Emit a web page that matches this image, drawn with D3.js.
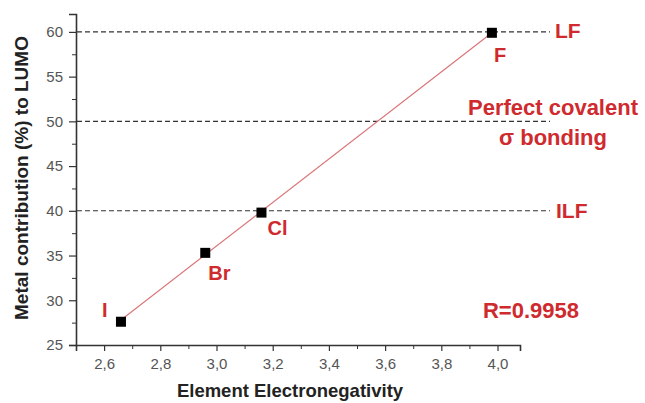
<!DOCTYPE html>
<html>
<head>
<meta charset="utf-8">
<script src="https://cdnjs.cloudflare.com/ajax/libs/d3/7.8.5/d3.min.js"></script>
<style>
  html, body { margin: 0; padding: 0; background: #fff; }
  svg { display: block; font-family: "Liberation Sans", Arial, sans-serif; }
</style>
</head>
<body>
<script>
'use strict';
(function () {

  // data
  let elements = ["I", "Br", "Cl", "F"];
  let electroneg = [2.66, 2.96, 3.16, 3.98];
  let metalContrib = [27.6, 35.3, 39.8, 59.9];
  // label offsets (px) for each point name
  let labelDx = [-19, 3, 6, 2];
  let labelDy = [-5, 27, 22, 29];

  // linear fit line end points
  let fitX = [2.66, 3.98];
  let fitY = [27.8, 59.9];

  // reference levels
  let refLevels = [60, 50, 40];

  let xTicks = [2.6, 2.8, 3.0, 3.2, 3.4, 3.6, 3.8, 4.0];
  let yTicks = [25, 30, 35, 40, 45, 50, 55, 60];

  let red = "#cf2a2e";
  let axisCol = "#333";

  let svg = d3.select("body")
    .append("svg")
    .attr("width", 645)
    .attr("height", 403);

  let xScale = d3.scaleLinear().domain([2.5, 4.08]).range([76, 520]);
  let yScale = d3.scaleLinear().domain([25, 62]).range([345, 14]);

  // minor ticks
  let xMinor = d3.range(2.5, 4.05, 0.1).map((d) => +d.toFixed(1)).filter((d) => xTicks.indexOf(d) < 0);
  let yMinor = d3.range(27.5, 62, 5);

  svg.append("g")
    .attr("transform", "translate(0, 345)")
    .call(d3.axisBottom(xScale).tickValues(xMinor).tickSize(4).tickFormat(""))
    .call((g) => g.select(".domain").remove())
    .selectAll("line").attr("stroke", axisCol);

  svg.append("g")
    .attr("transform", "translate(76, 0)")
    .call(d3.axisLeft(yScale).tickValues(yMinor).tickSize(4).tickFormat(""))
    .call((g) => g.select(".domain").remove())
    .selectAll("line").attr("stroke", axisCol);

  // major axes
  let xAxis = svg.append("g")
    .attr("transform", "translate(0, 345)")
    .call(d3.axisBottom(xScale).tickValues(xTicks).tickSizeOuter(0).tickSize(6)
      .tickFormat((d) => d3.format(".1f")(d).replace(".", ",")));

  let yAxis = svg.append("g")
    .attr("transform", "translate(76, 0)")
    .call(d3.axisLeft(yScale).tickValues(yTicks).tickSizeOuter(0).tickSize(7));

  [xAxis, yAxis].forEach((g) => {
    g.select(".domain").attr("stroke", axisCol).attr("stroke-width", 1.6);
    g.selectAll("line").attr("stroke", axisCol).attr("stroke-width", 1.2);
    g.selectAll("text")
      .attr("fill", "#555")
      .style("font-size", "15px")
      .style("font-family", "Liberation Sans, Arial, sans-serif");
  });
  xAxis.selectAll("text").attr("y", 8).attr("dy", "1.07em");
  yAxis.selectAll("text").attr("x", -13);

  // dashed reference lines
  svg.selectAll(".ref")
    .data(refLevels)
    .enter()
    .append("line")
    .attr("class", "ref")
    .attr("x1", 77)
    .attr("x2", 550)
    .attr("y1", (d) => yScale(d))
    .attr("y2", (d) => yScale(d))
    .attr("stroke", "#333")
    .attr("stroke-width", 1.1)
    .attr("stroke-dasharray", "5,3");

  // fit line
  let line = d3.line()
    .x((d) => xScale(d[0]))
    .y((d) => yScale(d[1]));

  svg.append("path")
    .datum(fitX.map((x, i) => [x, fitY[i]]))
    .attr("fill", "none")
    .attr("stroke", "#d9777a")
    .attr("stroke-width", 1.2)
    .attr("d", line);

  // points
  svg.selectAll(".dot")
    .data(elements)
    .enter()
    .append("rect")
    .attr("class", "dot")
    .attr("x", (d, i) => xScale(electroneg[i]) - 5)
    .attr("y", (d, i) => yScale(metalContrib[i]) - 5)
    .attr("width", 10)
    .attr("height", 10)
    .attr("fill", "#000");

  svg.selectAll(".ptlabel")
    .data(elements)
    .enter()
    .append("text")
    .attr("class", "ptlabel")
    .attr("x", (d, i) => xScale(electroneg[i]) + labelDx[i])
    .attr("y", (d, i) => yScale(metalContrib[i]) + labelDy[i])
    .attr("fill", red)
    .style("font-size", "20px")
    .style("font-weight", "bold")
    .text((d) => d);

  // annotations on the right
  svg.append("text")
    .attr("x", 555).attr("y", 38)
    .attr("fill", red).style("font-size", "21px").style("font-weight", "bold")
    .text("LF");

  svg.append("text")
    .attr("x", 556).attr("y", 218)
    .attr("fill", red).style("font-size", "21px").style("font-weight", "bold")
    .text("ILF");

  svg.append("text")
    .attr("x", 553).attr("y", 115)
    .attr("text-anchor", "middle")
    .attr("fill", red).style("font-size", "22px").style("font-weight", "bold")
    .text("Perfect covalent");

  svg.append("text")
    .attr("x", 553).attr("y", 145)
    .attr("text-anchor", "middle")
    .attr("fill", red).style("font-size", "22px").style("font-weight", "bold")
    .text("σ bonding");

  svg.append("text")
    .attr("x", 531).attr("y", 318)
    .attr("text-anchor", "middle")
    .attr("fill", red).style("font-size", "22px").style("font-weight", "bold")
    .text("R=0.9958");

  // axis titles
  svg.append("text")
    .attr("x", 290).attr("y", 397)
    .attr("text-anchor", "middle")
    .attr("fill", "#222").style("font-size", "18.5px").style("font-weight", "bold")
    .text("Element Electronegativity");

  svg.append("text")
    .attr("transform", "translate(28, 178)rotate(-90)")
    .attr("text-anchor", "middle")
    .attr("fill", "#222").style("font-size", "19px").style("font-weight", "bold")
    .text("Metal contribution (%) to LUMO");

})();
</script>
</body>
</html>
